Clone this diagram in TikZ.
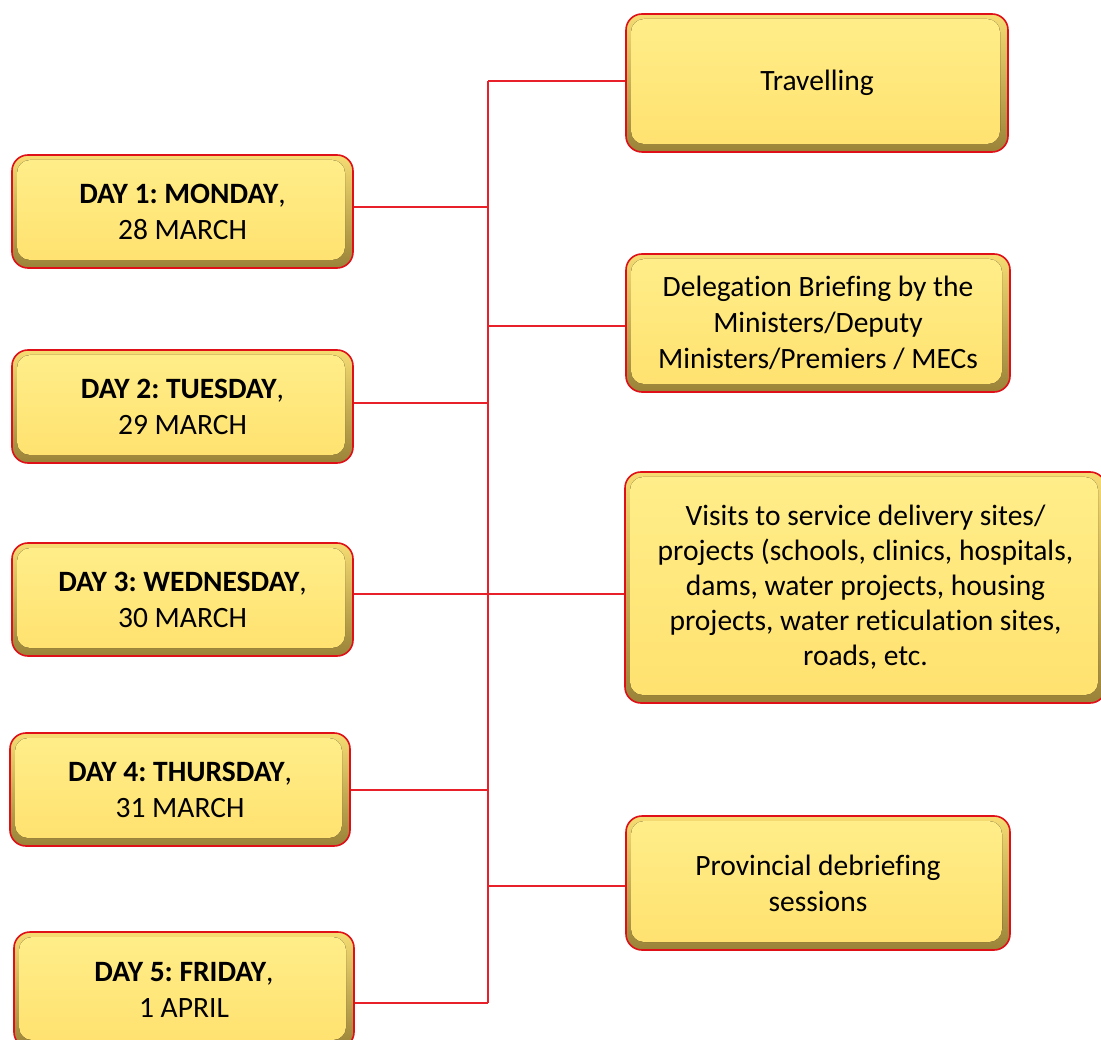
\documentclass[tikz,border=0pt]{standalone}
\usepackage{fontspec}
\setmainfont[Ligatures=NoCommon]{Carlito}
\frenchspacing
\definecolor{boxred}{HTML}{E01018}
\definecolor{linered}{HTML}{E8202A}
\definecolor{goldtop}{HTML}{F6DC72}
\definecolor{goldbot}{HTML}{9A8238}
\definecolor{yelltop}{HTML}{FFEE8A}
\definecolor{yellbot}{HTML}{FFE16E}
\begin{document}
\begin{tikzpicture}[x=1pt,y=-1pt,
  daybox/.style={rounded corners=16pt, draw=boxred, line width=1.6pt,
    top color=goldtop, bottom color=goldbot, align=center,
    font=\fontsize{29.5}{36}\selectfont\frenchspacing, inner sep=0pt,
    path picture={\fill[top color=yelltop, bottom color=yellbot, rounded corners=13pt]
      ([xshift=5pt,yshift=-5pt]path picture bounding box.north west) rectangle
      ([xshift=-8pt,yshift=8pt]path picture bounding box.south east);}},
  conn/.style={draw=linered, line width=1.2pt}]
\useasboundingbox (0,0) rectangle (1101,1040);
\fill[white] (0,0) rectangle (1101,1040);

% left day boxes
\node[daybox, minimum width=341pt, minimum height=113pt] (d1) at (182.5,211.5)
  {\textbf{DAY 1: MONDAY},\\28 MARCH};
\node[daybox, minimum width=341pt, minimum height=113pt] (d2) at (182.5,406.5)
  {\textbf{DAY 2: TUESDAY},\\29 MARCH};
\node[daybox, minimum width=341pt, minimum height=113pt] (d3) at (182.5,599.5)
  {\textbf{DAY 3: WEDNESDAY},\\30 MARCH};
\node[daybox, minimum width=340pt, minimum height=113pt] (d4) at (180,789.5)
  {\textbf{DAY 4: THURSDAY},\\31 MARCH};
\node[daybox, minimum width=340pt, minimum height=116pt] (d5) at (184,990)
  {\textbf{DAY 5: FRIDAY},\\1 APRIL};

% right activity boxes
\node[daybox, minimum width=382pt, minimum height=138pt] (tr) at (817,83)
  {Travelling};
\node[daybox, minimum width=384pt, minimum height=138pt] (db) at (818,323)
  {Delegation Briefing by the\\Ministers/Deputy\\Ministers/Premiers / MECs};
\node[daybox, minimum width=481pt, minimum height=231pt, font=\fontsize{29.5}{35}\selectfont\frenchspacing] (vs) at (865.5,587.5)
  {Visits to service delivery sites/\\projects (schools, clinics, hospitals,\\dams, water projects, housing\\projects, water reticulation sites,\\roads, etc.};
\node[daybox, minimum width=384pt, minimum height=134pt] (pd) at (818,883)
  {Provincial debriefing\\sessions};

% spine coordinates
\coordinate (s1) at (488,81);
\coordinate (s2) at (488,207);
\coordinate (s3) at (488,326);
\coordinate (s4) at (488,403);
\coordinate (s5) at (488,594);
\coordinate (s6) at (488,790);
\coordinate (s7) at (488,886);
\coordinate (s8) at (488,1003);

\draw[conn] (s1) -- (s8);
\draw[conn] (s1) -- (s1 -| tr.west);
\draw[conn] (s2 -| d1.east) -- (s2);
\draw[conn] (s3) -- (s3 -| db.west);
\draw[conn] (s4 -| d2.east) -- (s4);
\draw[conn] (s5 -| d3.east) -- (s5 -| vs.west);
\draw[conn] (s6 -| d4.east) -- (s6);
\draw[conn] (s7) -- (s7 -| pd.west);
\draw[conn] (s8 -| d5.east) -- (s8);
\end{tikzpicture}
\end{document}
